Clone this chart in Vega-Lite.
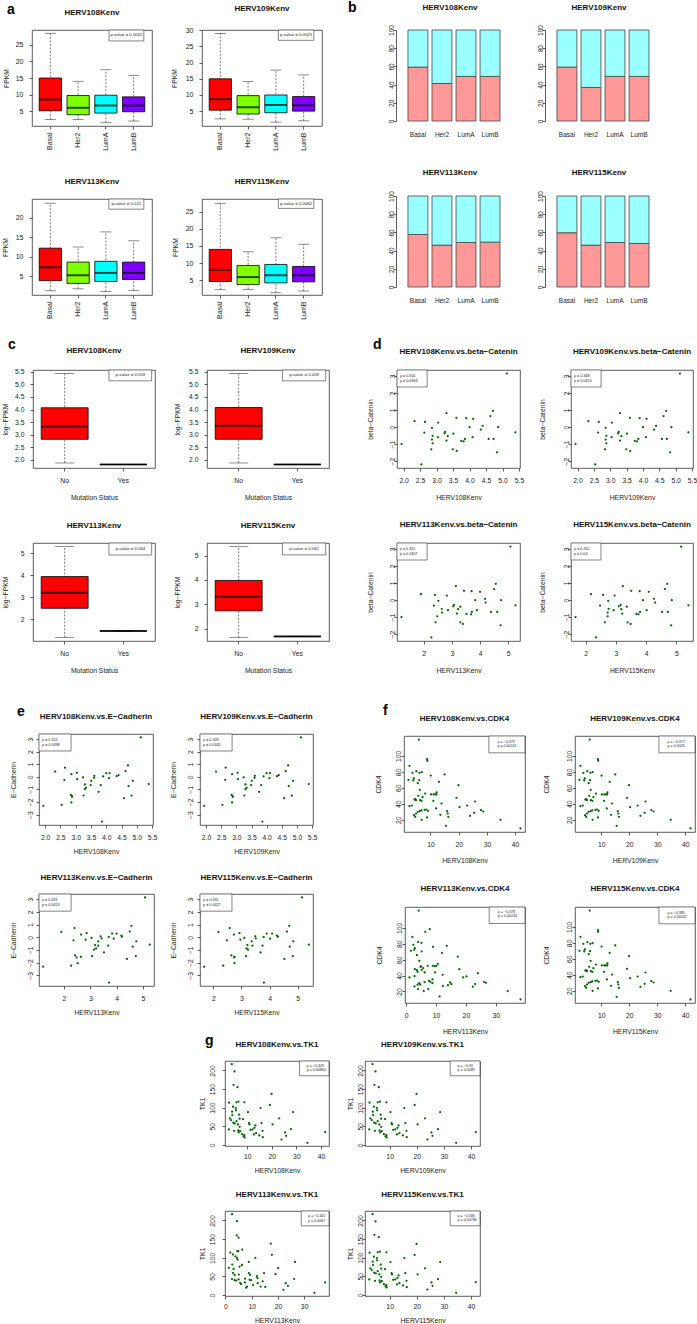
{
"$schema":"https://vega.github.io/schema/vega-lite/v6.json",
"padding":0,"background":"white","spacing":0,"bounds":"flush",
"datasets":{
"de":[
{"h108":1.94,"h113":1.21,"h115":1.67,"beta":-1.00,"ecad":-2.31},
{"h108":2.33,"h113":1.90,"h115":2.18,"beta":0.34,"ecad":0.42},
{"h108":2.54,"h113":2.27,"h115":2.35,"beta":-2.20,"ecad":-2.23},
{"h108":2.63,"h113":2.36,"h115":2.48,"beta":-0.33,"ecad":-0.24},
{"h108":2.65,"h113":2.40,"h115":2.58,"beta":0.30,"ecad":0.72},
{"h108":2.84,"h113":2.42,"h115":2.64,"beta":-1.31,"ecad":-1.43},
{"h108":2.86,"h113":2.52,"h115":2.75,"beta":-0.05,"ecad":-2.04},
{"h108":2.86,"h113":2.65,"h115":2.73,"beta":-0.74,"ecad":0.21},
{"h108":2.88,"h113":2.64,"h115":2.76,"beta":-0.52,"ecad":-1.54},
{"h108":2.88,"h113":2.48,"h115":2.73,"beta":-0.96,"ecad":-1.59},
{"h108":3.04,"h113":2.86,"h115":2.93,"beta":-0.60,"ecad":0.32},
{"h108":3.05,"h113":2.82,"h115":2.96,"beta":0.26,"ecad":-0.19},
{"h108":3.24,"h113":3.05,"h115":3.10,"beta":-0.37,"ecad":-0.05},
{"h108":3.26,"h113":3.07,"h115":3.16,"beta":-0.29,"ecad":-1.49},
{"h108":3.30,"h113":3.14,"h115":3.23,"beta":0.81,"ecad":-0.98},
{"h108":3.30,"h113":3.18,"h115":3.21,"beta":-0.80,"ecad":-0.61},
{"h108":3.34,"h113":3.22,"h115":3.18,"beta":-0.54,"ecad":-0.88},
{"h108":3.49,"h113":3.30,"h115":3.39,"beta":-1.31,"ecad":-0.66},
{"h108":3.51,"h113":3.30,"h115":3.36,"beta":-0.39,"ecad":-0.32},
{"h108":3.60,"h113":3.43,"h115":3.51,"beta":0.54,"ecad":-0.08},
{"h108":3.61,"h113":3.39,"h115":3.49,"beta":-1.41,"ecad":0.08},
{"h108":3.75,"h113":3.52,"h115":3.68,"beta":-0.82,"ecad":-1.19},
{"h108":3.82,"h113":3.68,"h115":3.75,"beta":-0.84,"ecad":-0.66},
{"h108":3.86,"h113":3.71,"h115":3.80,"beta":-0.70,"ecad":-3.56},
{"h108":3.90,"h113":3.70,"h115":3.79,"beta":0.52,"ecad":0.03},
{"h108":4.00,"h113":3.83,"h115":3.90,"beta":-0.01,"ecad":0.29},
{"h108":4.09,"h113":3.89,"h115":4.02,"beta":-0.60,"ecad":-0.11},
{"h108":4.11,"h113":4.00,"h115":4.09,"beta":0.48,"ecad":0.29},
{"h108":4.34,"h113":4.20,"h115":4.30,"beta":-0.15,"ecad":0.05},
{"h108":4.40,"h113":4.18,"h115":4.26,"beta":0.07,"ecad":0.13},
{"h108":4.58,"h113":4.39,"h115":4.53,"beta":-0.70,"ecad":-1.70},
{"h108":4.63,"h113":4.50,"h115":4.62,"beta":0.64,"ecad":0.45},
{"h108":4.71,"h113":4.56,"h115":4.70,"beta":0.95,"ecad":0.90},
{"h108":4.73,"h113":4.61,"h115":4.72,"beta":-0.70,"ecad":-0.74},
{"h108":4.83,"h113":4.73,"h115":4.83,"beta":-1.49,"ecad":-1.49},
{"h108":4.87,"h113":4.75,"h115":4.85,"beta":-0.01,"ecad":-0.32},
{"h108":5.13,"h113":5.08,"h115":5.16,"beta":3.14,"ecad":3.13},
{"h108":5.39,"h113":5.26,"h115":5.40,"beta":-0.31,"ecad":-0.58}],
"f108":[{"x":5.87,"y":120.4},{"x":2.56,"y":87.5},{"x":2.2,"y":70},{"x":3.6,"y":78.8},{"x":4.1,"y":71.7},{"x":3.9,"y":69.2},{"x":5.0,"y":80.8},{"x":6.1,"y":78.8},{"x":6.9,"y":79.6},{"x":8.8,"y":95.8},{"x":8.9,"y":93.8},{"x":6.0,"y":69.6},{"x":5.5,"y":65.8},{"x":6.2,"y":57.5},{"x":5.7,"y":50},{"x":4.6,"y":45.8},{"x":4.9,"y":44.6},{"x":4.3,"y":45.4},{"x":6.3,"y":44.6},{"x":6.8,"y":43.8},{"x":7.2,"y":48.3},{"x":8.1,"y":52.9},{"x":10.1,"y":75.4},{"x":2.56,"y":37.1},{"x":3.4,"y":37.9},{"x":4.2,"y":25.8},{"x":4.6,"y":23.8},{"x":4.9,"y":27.9},{"x":5.5,"y":30},{"x":6.2,"y":30.8},{"x":6.8,"y":31.7},{"x":6.9,"y":20},{"x":7.9,"y":32.5},{"x":8.5,"y":32.9},{"x":9.1,"y":31.3},{"x":8.8,"y":22.9},{"x":10.2,"y":51.7},{"x":11.1,"y":51.7},{"x":11.7,"y":51.7},{"x":12.1,"y":51.7},{"x":12.2,"y":54.2},{"x":11.0,"y":43.8},{"x":12.0,"y":34.2},{"x":13.0,"y":67.5},{"x":13.5,"y":26.3},{"x":13.9,"y":40.4},{"x":15.0,"y":76.7},{"x":15.5,"y":12.5},{"x":15.9,"y":30.8},{"x":16.1,"y":27.9},{"x":16.3,"y":23.8},{"x":19.2,"y":47.5},{"x":19.9,"y":63.3},{"x":20.3,"y":35.8},{"x":23.0,"y":37.9},{"x":24.0,"y":25},{"x":25.5,"y":28.8},{"x":25.8,"y":42.9},{"x":27.9,"y":32.1},{"x":28.7,"y":30.4},{"x":34.8,"y":20},{"x":41.9,"y":9.2}],
"f113":[{"x":4.2,"y":121.8},{"x":2.1,"y":88.7},{"x":1.6,"y":71.1},{"x":2.4,"y":78.7},{"x":2.7,"y":72.4},{"x":2.9,"y":74.5},{"x":4.0,"y":82.4},{"x":5.1,"y":81.2},{"x":5.2,"y":70.3},{"x":6.4,"y":95},{"x":7.9,"y":98.3},{"x":3.6,"y":65.7},{"x":4.4,"y":58.6},{"x":5.0,"y":51.5},{"x":5.2,"y":47.3},{"x":2.9,"y":48.1},{"x":3.6,"y":46.9},{"x":3.8,"y":44.8},{"x":6.2,"y":44},{"x":4.8,"y":51},{"x":5.7,"y":49.4},{"x":7.2,"y":52.3},{"x":9.0,"y":76.2},{"x":1.1,"y":37.7},{"x":2.8,"y":39.3},{"x":2.8,"y":26.4},{"x":3.8,"y":28.5},{"x":4.0,"y":23},{"x":4.4,"y":30.5},{"x":4.7,"y":28.5},{"x":6.2,"y":31.8},{"x":5.9,"y":20.5},{"x":7.6,"y":33.5},{"x":8.1,"y":32.2},{"x":8.8,"y":35.1},{"x":7.4,"y":23},{"x":8.9,"y":52.3},{"x":9.6,"y":51.9},{"x":10.1,"y":52.3},{"x":10.6,"y":54.8},{"x":9.7,"y":44},{"x":8.8,"y":30.5},{"x":12.0,"y":68.6},{"x":12.2,"y":41},{"x":12.3,"y":26.8},{"x":13.6,"y":77.4},{"x":11.2,"y":13.8},{"x":14.0,"y":28},{"x":14.7,"y":31.4},{"x":15.1,"y":29.3},{"x":17.3,"y":64},{"x":17.8,"y":48.1},{"x":19.1,"y":37.7},{"x":20.2,"y":38.9},{"x":22.3,"y":26},{"x":23.1,"y":29.3},{"x":24.0,"y":43.1},{"x":26.1,"y":32.2},{"x":26.7,"y":31},{"x":34.0,"y":20.5},{"x":38.3,"y":10}],
"g108":[{"x":3.7,"y":217},{"x":2.6,"y":113.5},{"x":2.5,"y":41.4},{"x":2.9,"y":71.2},{"x":3.4,"y":66.7},{"x":3.8,"y":89.2},{"x":3.9,"y":80.2},{"x":4.2,"y":102.7},{"x":4.3,"y":59.5},{"x":4.6,"y":37.8},{"x":4.8,"y":197.3},{"x":4.4,"y":161.3},{"x":5.3,"y":99.1},{"x":5.4,"y":92.8},{"x":5.6,"y":114.4},{"x":6.0,"y":155},{"x":6.4,"y":116.2},{"x":6.2,"y":55},{"x":5.6,"y":64},{"x":4.9,"y":57.7},{"x":6.7,"y":81.1},{"x":6.9,"y":70.3},{"x":6.9,"y":48.6},{"x":6.5,"y":33.3},{"x":7.1,"y":36.9},{"x":7.9,"y":28.8},{"x":6.3,"y":38.7},{"x":8.3,"y":69.4},{"x":8.8,"y":114.4},{"x":8.8,"y":26.1},{"x":8.9,"y":19.8},{"x":8.5,"y":22.5},{"x":10.3,"y":88.3},{"x":10.7,"y":58.6},{"x":10.9,"y":55},{"x":11.3,"y":40.5},{"x":12.1,"y":41.4},{"x":12.9,"y":45.9},{"x":13.3,"y":52.3},{"x":12.7,"y":27.9},{"x":13.6,"y":31.5},{"x":14.9,"y":25.2},{"x":15.4,"y":99.1},{"x":15.8,"y":58.6},{"x":16.2,"y":37.8},{"x":16.3,"y":20.7},{"x":19.2,"y":107.2},{"x":19.9,"y":136.9},{"x":20.3,"y":55},{"x":23.0,"y":71.2},{"x":23.9,"y":14.4},{"x":25.4,"y":33.3},{"x":25.8,"y":24.3},{"x":27.8,"y":42.3},{"x":28.6,"y":88.3},{"x":34.5,"y":5.4},{"x":41.7,"y":34.2}],
"g113":[{"x":2.5,"y":217},{"x":4.3,"y":160},{"x":4.4,"y":198},{"x":5.0,"y":154},{"x":1.8,"y":114},{"x":1.3,"y":73},{"x":2.8,"y":109},{"x":3.8,"y":104},{"x":4.4,"y":100},{"x":4.5,"y":118},{"x":4.9,"y":118},{"x":4.6,"y":95},{"x":5.4,"y":76},{"x":6.3,"y":81},{"x":2.6,"y":82},{"x":3.1,"y":70},{"x":2.9,"y":59},{"x":3.5,"y":54},{"x":2.5,"y":43},{"x":3.5,"y":40},{"x":4.1,"y":39},{"x":5.0,"y":42},{"x":5.1,"y":55},{"x":5.6,"y":33},{"x":5.9,"y":30},{"x":6.4,"y":122},{"x":7.4,"y":34},{"x":7.5,"y":44},{"x":7.9,"y":20},{"x":8.2,"y":23},{"x":8.9,"y":89},{"x":8.9,"y":59},{"x":9.4,"y":54},{"x":9.2,"y":41},{"x":9.8,"y":40},{"x":10.5,"y":27},{"x":11.4,"y":100},{"x":12.0,"y":51},{"x":12.2,"y":46},{"x":12.3,"y":32},{"x":13.4,"y":23},{"x":14.2,"y":37},{"x":14.7,"y":59},{"x":15.2,"y":22},{"x":17.3,"y":138},{"x":17.7,"y":108},{"x":19.1,"y":56},{"x":20.1,"y":72},{"x":22.1,"y":14},{"x":23.0,"y":32},{"x":23.8,"y":25},{"x":26.2,"y":43},{"x":26.5,"y":89},{"x":33.9,"y":6},{"x":38.0,"y":34}]
},
"vconcat":[
{"width":1,"height":30,"data":{"values":[{}]},"mark":{"type":"text","text":""},"encoding":{}},
{"spacing":0,"bounds":"flush","hconcat":[
{"width":32,"height":96,"title":{"text":"a","anchor":"start","dx":7,"offset":13,"fontSize":14,"fontWeight":"bold","color":"#000","limit":0},"data":{"values":[{}]},"mark":{"type":"text","text":""},"encoding":{}},
{"width":120,"height":96,"view":{"stroke":"#333","strokeWidth":0.8},"title":{"text":"HERV108Kenv","offset":13},
 "layer":[
  {"data":{"values":[{"g":"Basal","lo":2.5,"q1":5.1,"med":8.5,"q3":15.0,"hi":28.5},{"g":"Her2","lo":2.5,"q1":3.9,"med":6.0,"q3":9.7,"hi":14.0},{"g":"LumA","lo":1.5,"q1":4.4,"med":6.7,"q3":9.8,"hi":17.5},{"g":"LumB","lo":2.0,"q1":4.8,"med":6.7,"q3":9.3,"hi":15.8}]},
   "encoding":{"x":{"field":"g","type":"nominal","sort":null,"scale":{"paddingInner":0,"paddingOuter":0.16},"axis":{"title":null,"bandPosition":0.5,"labelAngle":270,"labelAlign":"right","labelBaseline":"middle","labelPadding":3,"labelFontSize":7,"labelOverlap":false}}},
   "layer":[
    {"mark":{"type":"rule","strokeDash":[2,1.5],"strokeWidth":0.7,"color":"#444"},"encoding":{"y":{"field":"lo","type":"quantitative","scale":{"domain":[0.5,29.5],"nice":false,"zero":false},"axis":{"values":[5,10,15,20,25],"tickCount":20,"format":"d","title":"FPKM","titleX":-26,"titleBaseline":"middle","labelPadding":6,"labelFontSize":7,"labelOverlap":false,"labelFlush":false}},"y2":{"field":"hi"}}},
    {"mark":{"type":"tick","size":11,"thickness":0.8,"color":"#333"},"encoding":{"y":{"field":"lo","type":"quantitative"}}},
    {"mark":{"type":"tick","size":11,"thickness":0.8,"color":"#333"},"encoding":{"y":{"field":"hi","type":"quantitative"}}},
    {"mark":{"type":"bar","width":{"band":0.8},"stroke":"#000","strokeWidth":0.8},"encoding":{"y":{"field":"q1","type":"quantitative"},"y2":{"field":"q3"},"color":{"field":"g","type":"nominal","sort":null,"scale":{"domain":["Basal","Her2","LumA","LumB"],"range":["#FF0000","#80FF00","#00FFFF","#8000FF"]},"legend":null}}},
    {"mark":{"type":"tick","size":22,"thickness":2,"color":"#000"},"encoding":{"y":{"field":"med","type":"quantitative"}}}]},
  {"data":{"values":[{}]},"layer":[
    {"mark":{"type":"rect","fill":"#fff","stroke":"#333","strokeWidth":0.6},"encoding":{"x":{"datum":3.21,"type":"quantitative","scale":{"domain":[0.34,4.66]},"axis":null},"x2":{"datum":4.66},"y":{"datum":26.2,"type":"quantitative"},"y2":{"datum":29.5}}},
    {"mark":{"type":"text","text":"p-value = 0.0022","fontSize":4.3,"align":"center","baseline":"middle","color":"#222"},"encoding":{"x":{"datum":3.935,"type":"quantitative","axis":null},"y":{"datum":27.85,"type":"quantitative"}}}]}],
 "resolve":{"scale":{"x":"independent"}}},
{"width":50,"height":96,"data":{"values":[{}]},"mark":{"type":"text","text":""},"encoding":{}},
{"width":120,"height":96,"view":{"stroke":"#333","strokeWidth":0.8},"title":{"text":"HERV109Kenv","offset":13},
 "layer":[
  {"data":{"values":[{"g":"Basal","lo":2.6,"q1":5.3,"med":8.7,"q3":15.0,"hi":29.0},{"g":"Her2","lo":2.5,"q1":4.1,"med":6.2,"q3":9.8,"hi":14.2},{"g":"LumA","lo":1.6,"q1":4.5,"med":6.9,"q3":10.0,"hi":17.7},{"g":"LumB","lo":2.0,"q1":5.0,"med":6.8,"q3":9.5,"hi":16.2}]},
   "encoding":{"x":{"field":"g","type":"nominal","sort":null,"scale":{"paddingInner":0,"paddingOuter":0.16},"axis":{"title":null,"bandPosition":0.5,"labelAngle":270,"labelAlign":"right","labelBaseline":"middle","labelPadding":3,"labelFontSize":7,"labelOverlap":false}}},
   "layer":[
    {"mark":{"type":"rule","strokeDash":[2,1.5],"strokeWidth":0.7,"color":"#444"},"encoding":{"y":{"field":"lo","type":"quantitative","scale":{"domain":[0.4,30.1],"nice":false,"zero":false},"axis":{"values":[5,10,15,20,25,30],"tickCount":20,"format":"d","title":"FPKM","titleX":-28,"titleBaseline":"middle","labelPadding":6,"labelFontSize":7,"labelOverlap":false,"labelFlush":false}},"y2":{"field":"hi"}}},
    {"mark":{"type":"tick","size":11,"thickness":0.8,"color":"#333"},"encoding":{"y":{"field":"lo","type":"quantitative"}}},
    {"mark":{"type":"tick","size":11,"thickness":0.8,"color":"#333"},"encoding":{"y":{"field":"hi","type":"quantitative"}}},
    {"mark":{"type":"bar","width":{"band":0.8},"stroke":"#000","strokeWidth":0.8},"encoding":{"y":{"field":"q1","type":"quantitative"},"y2":{"field":"q3"},"color":{"field":"g","type":"nominal","sort":null,"scale":{"domain":["Basal","Her2","LumA","LumB"],"range":["#FF0000","#80FF00","#00FFFF","#8000FF"]},"legend":null}}},
    {"mark":{"type":"tick","size":22,"thickness":2,"color":"#000"},"encoding":{"y":{"field":"med","type":"quantitative"}}}]},
  {"data":{"values":[{}]},"layer":[
    {"mark":{"type":"rect","fill":"#fff","stroke":"#333","strokeWidth":0.6},"encoding":{"x":{"datum":3.18,"type":"quantitative","scale":{"domain":[0.34,4.66]},"axis":null},"x2":{"datum":4.66},"y":{"datum":26.9,"type":"quantitative"},"y2":{"datum":30.1}}},
    {"mark":{"type":"text","text":"p-value = 0.0025","fontSize":4.3,"align":"center","baseline":"middle","color":"#222"},"encoding":{"x":{"datum":3.92,"type":"quantitative","axis":null},"y":{"datum":28.5,"type":"quantitative"}}}]}],
 "resolve":{"scale":{"x":"independent"}}},
{"width":74,"height":91,"title":{"text":"b","anchor":"start","dx":26,"offset":15,"fontSize":14,"fontWeight":"bold","color":"#000","limit":0},"data":{"values":[{}]},"mark":{"type":"text","text":""},"encoding":{}},
{"width":108,"height":91,"title":{"text":"HERV108Kenv","offset":13},
 "data":{"values":[{"g":"Basal","v":59.2},{"g":"Her2","v":41.2},{"g":"LumA","v":49},{"g":"LumB","v":49}]},
 "encoding":{"x":{"field":"g","type":"nominal","sort":null,"scale":{"paddingInner":0.17,"paddingOuter":0.332,"align":0.75},"axis":{"title":null,"labelAngle":0,"ticks":false,"tickSize":0,"labelPadding":13,"labelBaseline":"middle","labelFontSize":6.5,"labelOverlap":false}}},
 "layer":[
  {"mark":{"type":"bar","color":"#FF9999","stroke":"#444","strokeWidth":0.8},"encoding":{"y":{"field":"v","type":"quantitative","scale":{"domain":[0,100],"nice":false,"zero":false},"axis":{"values":[0,20,40,60,80,100],"tickCount":20,"format":"d","title":null,"labelAngle":270,"labelAlign":"center","labelBaseline":"middle","labelPadding":2,"labelFontSize":6.5,"labelOverlap":false,"labelFlush":false,"domain":true,"domainColor":"#333","domainWidth":0.8}},"y2":{"datum":0}}},
  {"mark":{"type":"bar","color":"#99FFFF","stroke":"#444","strokeWidth":0.8},"encoding":{"y":{"field":"v","type":"quantitative"},"y2":{"datum":100}}}]},
{"width":41,"height":91,"data":{"values":[{}]},"mark":{"type":"text","text":""},"encoding":{}},
{"width":108,"height":91,"title":{"text":"HERV109Kenv","offset":13},
 "data":{"values":[{"g":"Basal","v":59.2},{"g":"Her2","v":36.8},{"g":"LumA","v":49},{"g":"LumB","v":49}]},
 "encoding":{"x":{"field":"g","type":"nominal","sort":null,"scale":{"paddingInner":0.17,"paddingOuter":0.332,"align":0.75},"axis":{"title":null,"labelAngle":0,"ticks":false,"tickSize":0,"labelPadding":13,"labelBaseline":"middle","labelFontSize":6.5,"labelOverlap":false}}},
 "layer":[
  {"mark":{"type":"bar","color":"#FF9999","stroke":"#444","strokeWidth":0.8},"encoding":{"y":{"field":"v","type":"quantitative","scale":{"domain":[0,100],"nice":false,"zero":false},"axis":{"values":[0,20,40,60,80,100],"tickCount":20,"format":"d","title":null,"labelAngle":270,"labelAlign":"center","labelBaseline":"middle","labelPadding":2,"labelFontSize":6.5,"labelOverlap":false,"labelFlush":false,"domain":true,"domainColor":"#333","domainWidth":0.8}},"y2":{"datum":0}}},
  {"mark":{"type":"bar","color":"#99FFFF","stroke":"#444","strokeWidth":0.8},"encoding":{"y":{"field":"v","type":"quantitative"},"y2":{"datum":100}}}]}
]},
{"width":1,"height":166,"data":{"values":[{}]},"mark":{"type":"text","text":""},"encoding":{}},
{"spacing":0,"bounds":"flush","hconcat":[
{"width":396,"height":91,"data":{"values":[{}]},"mark":{"type":"text","text":""},"encoding":{}},
{"width":108,"height":91,"title":{"text":"HERV113Kenv","offset":14},
 "data":{"values":[{"g":"Basal","v":57.7},{"g":"Her2","v":46},{"g":"LumA","v":48.9},{"g":"LumB","v":49.3}]},
 "encoding":{"x":{"field":"g","type":"nominal","sort":null,"scale":{"paddingInner":0.17,"paddingOuter":0.332,"align":0.75},"axis":{"title":null,"labelAngle":0,"ticks":false,"tickSize":0,"labelPadding":13,"labelBaseline":"middle","labelFontSize":6.5,"labelOverlap":false}}},
 "layer":[
  {"mark":{"type":"bar","color":"#FF9999","stroke":"#444","strokeWidth":0.8},"encoding":{"y":{"field":"v","type":"quantitative","scale":{"domain":[0,100],"nice":false,"zero":false},"axis":{"values":[0,20,40,60,80,100],"tickCount":20,"format":"d","title":null,"labelAngle":270,"labelAlign":"center","labelBaseline":"middle","labelPadding":2,"labelFontSize":6.5,"labelOverlap":false,"labelFlush":false,"domain":true,"domainColor":"#333","domainWidth":0.8}},"y2":{"datum":0}}},
  {"mark":{"type":"bar","color":"#99FFFF","stroke":"#444","strokeWidth":0.8},"encoding":{"y":{"field":"v","type":"quantitative"},"y2":{"datum":100}}}]},
{"width":41,"height":91,"data":{"values":[{}]},"mark":{"type":"text","text":""},"encoding":{}},
{"width":108,"height":91,"title":{"text":"HERV115Kenv","offset":14},
 "data":{"values":[{"g":"Basal","v":59.6},{"g":"Her2","v":46},{"g":"LumA","v":48.9},{"g":"LumB","v":47.8}]},
 "encoding":{"x":{"field":"g","type":"nominal","sort":null,"scale":{"paddingInner":0.17,"paddingOuter":0.332,"align":0.75},"axis":{"title":null,"labelAngle":0,"ticks":false,"tickSize":0,"labelPadding":13,"labelBaseline":"middle","labelFontSize":6.5,"labelOverlap":false}}},
 "layer":[
  {"mark":{"type":"bar","color":"#FF9999","stroke":"#444","strokeWidth":0.8},"encoding":{"y":{"field":"v","type":"quantitative","scale":{"domain":[0,100],"nice":false,"zero":false},"axis":{"values":[0,20,40,60,80,100],"tickCount":20,"format":"d","title":null,"labelAngle":270,"labelAlign":"center","labelBaseline":"middle","labelPadding":2,"labelFontSize":6.5,"labelOverlap":false,"labelFlush":false,"domain":true,"domainColor":"#333","domainWidth":0.8}},"y2":{"datum":0}}},
  {"mark":{"type":"bar","color":"#99FFFF","stroke":"#444","strokeWidth":0.8},"encoding":{"y":{"field":"v","type":"quantitative"},"y2":{"datum":100}}}]}
]},
{"width":1,"height":3,"data":{"values":[{}]},"mark":{"type":"text","text":""},"encoding":{}},
{"spacing":0,"bounds":"flush","hconcat":[
{"width":32,"height":96,"data":{"values":[{}]},"mark":{"type":"text","text":""},"encoding":{}},
{"width":120,"height":96,"view":{"stroke":"#333","strokeWidth":0.8},"title":{"text":"HERV113Kenv","offset":12.5},
 "layer":[
  {"data":{"values":[{"g":"Basal","lo":1.2,"q1":3.8,"med":7.3,"q3":12.2,"hi":23.8},{"g":"Her2","lo":1.7,"q1":3.1,"med":5.2,"q3":8.6,"hi":12.5},{"g":"LumA","lo":1.0,"q1":3.6,"med":5.8,"q3":8.8,"hi":16.4},{"g":"LumB","lo":1.3,"q1":4.1,"med":5.8,"q3":8.6,"hi":14.1}]},
   "encoding":{"x":{"field":"g","type":"nominal","sort":null,"scale":{"paddingInner":0,"paddingOuter":0.16},"axis":{"title":null,"bandPosition":0.5,"labelAngle":270,"labelAlign":"right","labelBaseline":"middle","labelPadding":3,"labelFontSize":7,"labelOverlap":false}}},
   "layer":[
    {"mark":{"type":"rule","strokeDash":[2,1.5],"strokeWidth":0.7,"color":"#444"},"encoding":{"y":{"field":"lo","type":"quantitative","scale":{"domain":[0.1,24.9],"nice":false,"zero":false},"axis":{"values":[5,10,15,20],"tickCount":20,"format":"d","title":"FPKM","titleX":-27,"titleBaseline":"middle","labelPadding":6,"labelFontSize":7,"labelOverlap":false,"labelFlush":false}},"y2":{"field":"hi"}}},
    {"mark":{"type":"tick","size":11,"thickness":0.8,"color":"#333"},"encoding":{"y":{"field":"lo","type":"quantitative"}}},
    {"mark":{"type":"tick","size":11,"thickness":0.8,"color":"#333"},"encoding":{"y":{"field":"hi","type":"quantitative"}}},
    {"mark":{"type":"bar","width":{"band":0.8},"stroke":"#000","strokeWidth":0.8},"encoding":{"y":{"field":"q1","type":"quantitative"},"y2":{"field":"q3"},"color":{"field":"g","type":"nominal","sort":null,"scale":{"domain":["Basal","Her2","LumA","LumB"],"range":["#FF0000","#80FF00","#00FFFF","#8000FF"]},"legend":null}}},
    {"mark":{"type":"tick","size":22,"thickness":2,"color":"#000"},"encoding":{"y":{"field":"med","type":"quantitative"}}}]},
  {"data":{"values":[{}]},"layer":[
    {"mark":{"type":"rect","fill":"#fff","stroke":"#333","strokeWidth":0.6},"encoding":{"x":{"datum":3.2,"type":"quantitative","scale":{"domain":[0.34,4.66]},"axis":null},"x2":{"datum":4.66},"y":{"datum":22.27,"type":"quantitative"},"y2":{"datum":24.9}}},
    {"mark":{"type":"text","text":"p-value = 0.015","fontSize":4.3,"align":"center","baseline":"middle","color":"#222"},"encoding":{"x":{"datum":3.93,"type":"quantitative","axis":null},"y":{"datum":23.58,"type":"quantitative"}}}]}],
 "resolve":{"scale":{"x":"independent"}}},
{"width":50,"height":96,"data":{"values":[{}]},"mark":{"type":"text","text":""},"encoding":{}},
{"width":120,"height":96,"view":{"stroke":"#333","strokeWidth":0.8},"title":{"text":"HERV115Kenv","offset":12.5},
 "layer":[
  {"data":{"values":[{"g":"Basal","lo":2.2,"q1":4.6,"med":8.0,"q3":14.0,"hi":27.5},{"g":"Her2","lo":2.3,"q1":3.7,"med":5.9,"q3":9.3,"hi":13.3},{"g":"LumA","lo":1.3,"q1":4.2,"med":6.4,"q3":9.6,"hi":17.4},{"g":"LumB","lo":1.8,"q1":4.5,"med":6.4,"q3":9.0,"hi":15.5}]},
   "encoding":{"x":{"field":"g","type":"nominal","sort":null,"scale":{"paddingInner":0,"paddingOuter":0.16},"axis":{"title":null,"bandPosition":0.5,"labelAngle":270,"labelAlign":"right","labelBaseline":"middle","labelPadding":3,"labelFontSize":7,"labelOverlap":false}}},
   "layer":[
    {"mark":{"type":"rule","strokeDash":[2,1.5],"strokeWidth":0.7,"color":"#444"},"encoding":{"y":{"field":"lo","type":"quantitative","scale":{"domain":[0.65,28.75],"nice":false,"zero":false},"axis":{"values":[5,10,15,20,25],"tickCount":20,"format":"d","title":"FPKM","titleX":-27,"titleBaseline":"middle","labelPadding":6,"labelFontSize":7,"labelOverlap":false,"labelFlush":false}},"y2":{"field":"hi"}}},
    {"mark":{"type":"tick","size":11,"thickness":0.8,"color":"#333"},"encoding":{"y":{"field":"lo","type":"quantitative"}}},
    {"mark":{"type":"tick","size":11,"thickness":0.8,"color":"#333"},"encoding":{"y":{"field":"hi","type":"quantitative"}}},
    {"mark":{"type":"bar","width":{"band":0.8},"stroke":"#000","strokeWidth":0.8},"encoding":{"y":{"field":"q1","type":"quantitative"},"y2":{"field":"q3"},"color":{"field":"g","type":"nominal","sort":null,"scale":{"domain":["Basal","Her2","LumA","LumB"],"range":["#FF0000","#80FF00","#00FFFF","#8000FF"]},"legend":null}}},
    {"mark":{"type":"tick","size":22,"thickness":2,"color":"#000"},"encoding":{"y":{"field":"med","type":"quantitative"}}}]},
  {"data":{"values":[{}]},"layer":[
    {"mark":{"type":"rect","fill":"#fff","stroke":"#333","strokeWidth":0.6},"encoding":{"x":{"datum":3.18,"type":"quantitative","scale":{"domain":[0.34,4.66]},"axis":null},"x2":{"datum":4.66},"y":{"datum":26.0,"type":"quantitative"},"y2":{"datum":28.75}}},
    {"mark":{"type":"text","text":"p-value = 0.0062","fontSize":4.3,"align":"center","baseline":"middle","color":"#222"},"encoding":{"x":{"datum":3.92,"type":"quantitative","axis":null},"y":{"datum":27.37,"type":"quantitative"}}}]}],
 "resolve":{"scale":{"x":"independent"}}}
]},
{"width":1,"height":171,"data":{"values":[{}]},"mark":{"type":"text","text":""},"encoding":{}},
{"spacing":0,"bounds":"flush","hconcat":[
{"width":33,"height":98,"title":{"text":"c","anchor":"start","dx":8,"offset":18,"fontSize":14,"fontWeight":"bold","color":"#000","limit":0},"data":{"values":[{}]},"mark":{"type":"text","text":""},"encoding":{}},
{"width":122,"height":98,"view":{"stroke":"#333","strokeWidth":0.8},"title":{"text":"HERV108Kenv","offset":14},
 "layer":[
  {"data":{"values":[{"g":"No","lo":1.88,"q1":2.82,"med":3.33,"q3":4.07,"hi":5.43},{"g":"Yes","lo":1.82,"q1":1.82,"med":1.82,"q3":1.82,"hi":1.82}]},
   "encoding":{"x":{"field":"g","type":"nominal","sort":null,"scale":{"paddingInner":0,"paddingOuter":0.04},"axis":{"title":"Mutation Status","titleY":29,"titleBaseline":"middle","bandPosition":0.5,"labelAngle":0,"labelBaseline":"middle","labelPadding":9,"labelOverlap":false}}},
   "layer":[
    {"mark":{"type":"rule","strokeDash":[2,1.5],"strokeWidth":0.7,"color":"#444"},"encoding":{"y":{"field":"lo","type":"quantitative","scale":{"domain":[1.68,5.57],"nice":false,"zero":false},"axis":{"values":[2,2.5,3,3.5,4,4.5,5,5.5],"tickCount":20,"format":".1f","title":"log−FPKM","titleX":-28,"titleBaseline":"middle","labelPadding":6,"labelOverlap":false,"labelFlush":false}},"y2":{"field":"hi"}}},
    {"mark":{"type":"tick","size":19,"thickness":0.8,"color":"#333"},"encoding":{"y":{"field":"lo","type":"quantitative"}}},
    {"mark":{"type":"tick","size":19,"thickness":0.8,"color":"#333"},"encoding":{"y":{"field":"hi","type":"quantitative"}}},
    {"mark":{"type":"bar","width":{"band":0.8},"color":"#FF0000","stroke":"#000","strokeWidth":0.8},"encoding":{"y":{"field":"q1","type":"quantitative"},"y2":{"field":"q3"}}},
    {"mark":{"type":"tick","size":47,"thickness":2,"color":"#000"},"encoding":{"y":{"field":"med","type":"quantitative"}}}]},
  {"data":{"values":[{}]},"layer":[
    {"mark":{"type":"rect","fill":"#fff","stroke":"#333","strokeWidth":0.6},"encoding":{"x":{"datum":1.77,"type":"quantitative","scale":{"domain":[0.46,2.54]},"axis":null},"x2":{"datum":2.54},"y":{"datum":5.14,"type":"quantitative"},"y2":{"datum":5.57}}},
    {"mark":{"type":"text","text":"p-value = 0.059","fontSize":4.3,"align":"center","baseline":"middle","color":"#222"},"encoding":{"x":{"datum":2.155,"type":"quantitative","axis":null},"y":{"datum":5.355,"type":"quantitative"}}}]}],
 "resolve":{"scale":{"x":"independent"}}},
{"width":52,"height":98,"data":{"values":[{}]},"mark":{"type":"text","text":""},"encoding":{}},
{"width":122,"height":98,"view":{"stroke":"#333","strokeWidth":0.8},"title":{"text":"HERV109Kenv","offset":14},
 "layer":[
  {"data":{"values":[{"g":"No","lo":1.88,"q1":2.82,"med":3.36,"q3":4.08,"hi":5.43},{"g":"Yes","lo":1.82,"q1":1.82,"med":1.82,"q3":1.82,"hi":1.82}]},
   "encoding":{"x":{"field":"g","type":"nominal","sort":null,"scale":{"paddingInner":0,"paddingOuter":0.04},"axis":{"title":"Mutation Status","titleY":29,"titleBaseline":"middle","bandPosition":0.5,"labelAngle":0,"labelBaseline":"middle","labelPadding":9,"labelOverlap":false}}},
   "layer":[
    {"mark":{"type":"rule","strokeDash":[2,1.5],"strokeWidth":0.7,"color":"#444"},"encoding":{"y":{"field":"lo","type":"quantitative","scale":{"domain":[1.68,5.57],"nice":false,"zero":false},"axis":{"values":[2,2.5,3,3.5,4,4.5,5,5.5],"tickCount":20,"format":".1f","title":"log−FPKM","titleX":-30,"titleBaseline":"middle","labelPadding":6,"labelOverlap":false,"labelFlush":false}},"y2":{"field":"hi"}}},
    {"mark":{"type":"tick","size":19,"thickness":0.8,"color":"#333"},"encoding":{"y":{"field":"lo","type":"quantitative"}}},
    {"mark":{"type":"tick","size":19,"thickness":0.8,"color":"#333"},"encoding":{"y":{"field":"hi","type":"quantitative"}}},
    {"mark":{"type":"bar","width":{"band":0.8},"color":"#FF0000","stroke":"#000","strokeWidth":0.8},"encoding":{"y":{"field":"q1","type":"quantitative"},"y2":{"field":"q3"}}},
    {"mark":{"type":"tick","size":47,"thickness":2,"color":"#000"},"encoding":{"y":{"field":"med","type":"quantitative"}}}]},
  {"data":{"values":[{}]},"layer":[
    {"mark":{"type":"rect","fill":"#fff","stroke":"#333","strokeWidth":0.6},"encoding":{"x":{"datum":1.76,"type":"quantitative","scale":{"domain":[0.46,2.54]},"axis":null},"x2":{"datum":2.54},"y":{"datum":5.14,"type":"quantitative"},"y2":{"datum":5.57}}},
    {"mark":{"type":"text","text":"p-value = 0.059","fontSize":4.3,"align":"center","baseline":"middle","color":"#222"},"encoding":{"x":{"datum":2.15,"type":"quantitative","axis":null},"y":{"datum":5.355,"type":"quantitative"}}}]}],
 "resolve":{"scale":{"x":"independent"}}},
{"width":68,"height":98,"title":{"text":"d","anchor":"start","dx":44,"offset":18,"fontSize":14,"fontWeight":"bold","color":"#000","limit":0},"data":{"values":[{}]},"mark":{"type":"text","text":""},"encoding":{}},
{"width":123,"height":98,"view":{"stroke":"#333","strokeWidth":0.8},"title":{"text":"HERV108Kenv.vs.beta−Catenin","offset":14},
 "layer":[
  {"data":{"name":"de"},"mark":{"type":"circle","size":5,"color":"#006400","opacity":1},"encoding":{"x":{"field":"h108","type":"quantitative","scale":{"domain":[1.80,5.53],"nice":false,"zero":false},"axis":{"values":[2,2.5,3,3.5,4,4.5,5,5.5],"tickCount":20,"format":".1f","title":"HERV108Kenv","titleY":29,"titleBaseline":"middle","labelBaseline":"middle","labelPadding":9,"labelOverlap":false,"labelFlush":false}},"y":{"field":"beta","type":"quantitative","scale":{"domain":[-2.41,3.35],"nice":false,"zero":false},"axis":{"values":[-2,-1,0,1,2,3],"tickCount":20,"format":"d","title":"beta−Catenin","titleX":-27,"titleBaseline":"middle","labelAngle":270,"labelAlign":"center","labelBaseline":"middle","labelPadding":2,"labelOverlap":false,"labelFlush":false}}}},
  {"data":{"values":[{}]},"mark":{"type":"rect","fill":"#fff","stroke":"#333","strokeWidth":0.6},"encoding":{"x":{"datum":1.80},"x2":{"datum":2.715},"y":{"datum":2.35},"y2":{"datum":3.35}}},
  {"data":{"values":[{}]},"mark":{"type":"text","text":["ρ = 0.341","p = 0.0363"],"fontSize":3.7,"lineHeight":5.4,"align":"left","baseline":"alphabetic","color":"#222"},"encoding":{"x":{"datum":1.89},"y":{"datum":2.96}}}]},
{"width":51,"height":98,"data":{"values":[{}]},"mark":{"type":"text","text":""},"encoding":{}},
{"width":122,"height":98,"view":{"stroke":"#333","strokeWidth":0.8},"title":{"text":"HERV109Kenv.vs.beta−Catenin","offset":14},
 "layer":[
  {"data":{"name":"de"},"mark":{"type":"circle","size":5,"color":"#006400","opacity":1},"encoding":{"x":{"field":"h108","type":"quantitative","scale":{"domain":[1.80,5.53],"nice":false,"zero":false},"axis":{"values":[2,2.5,3,3.5,4,4.5,5,5.5],"tickCount":20,"format":".1f","title":"HERV109Kenv","titleY":29,"titleBaseline":"middle","labelBaseline":"middle","labelPadding":9,"labelOverlap":false,"labelFlush":false}},"y":{"field":"beta","type":"quantitative","scale":{"domain":[-2.41,3.35],"nice":false,"zero":false},"axis":{"values":[-2,-1,0,1,2,3],"tickCount":20,"format":"d","title":"beta−Catenin","titleX":-29,"titleBaseline":"middle","labelAngle":270,"labelAlign":"center","labelBaseline":"middle","labelPadding":2,"labelOverlap":false,"labelFlush":false}}}},
  {"data":{"values":[{}]},"mark":{"type":"rect","fill":"#fff","stroke":"#333","strokeWidth":0.6},"encoding":{"x":{"datum":1.80},"x2":{"datum":2.72},"y":{"datum":2.35},"y2":{"datum":3.35}}},
  {"data":{"values":[{}]},"mark":{"type":"text","text":["ρ = 0.348","p = 0.0324"],"fontSize":3.7,"lineHeight":5.4,"align":"left","baseline":"alphabetic","color":"#222"},"encoding":{"x":{"datum":1.89},"y":{"datum":2.96}}}]}
]},
{"width":1,"height":173,"data":{"values":[{}]},"mark":{"type":"text","text":""},"encoding":{}},
{"spacing":0,"bounds":"flush","hconcat":[
{"width":33,"height":98,"data":{"values":[{}]},"mark":{"type":"text","text":""},"encoding":{}},
{"width":122,"height":98,"view":{"stroke":"#333","strokeWidth":0.8},"title":{"text":"HERV113Kenv","offset":13},
 "layer":[
  {"data":{"values":[{"g":"No","lo":1.18,"q1":2.5,"med":3.21,"q3":3.94,"hi":5.3},{"g":"Yes","lo":1.47,"q1":1.47,"med":1.47,"q3":1.47,"hi":1.47}]},
   "encoding":{"x":{"field":"g","type":"nominal","sort":null,"scale":{"paddingInner":0,"paddingOuter":0.04},"axis":{"title":"Mutation Status","titleY":29,"titleBaseline":"middle","bandPosition":0.5,"labelAngle":0,"labelBaseline":"middle","labelPadding":9,"labelOverlap":false}}},
   "layer":[
    {"mark":{"type":"rule","strokeDash":[2,1.5],"strokeWidth":0.7,"color":"#444"},"encoding":{"y":{"field":"lo","type":"quantitative","scale":{"domain":[1.015,5.465],"nice":false,"zero":false},"axis":{"values":[2,3,4,5],"tickCount":20,"format":"d","title":"log−FPKM","titleX":-28,"titleBaseline":"middle","labelPadding":6,"labelOverlap":false,"labelFlush":false}},"y2":{"field":"hi"}}},
    {"mark":{"type":"tick","size":19,"thickness":0.8,"color":"#333"},"encoding":{"y":{"field":"lo","type":"quantitative"}}},
    {"mark":{"type":"tick","size":19,"thickness":0.8,"color":"#333"},"encoding":{"y":{"field":"hi","type":"quantitative"}}},
    {"mark":{"type":"bar","width":{"band":0.8},"color":"#FF0000","stroke":"#000","strokeWidth":0.8},"encoding":{"y":{"field":"q1","type":"quantitative"},"y2":{"field":"q3"}}},
    {"mark":{"type":"tick","size":47,"thickness":2,"color":"#000"},"encoding":{"y":{"field":"med","type":"quantitative"}}}]},
  {"data":{"values":[{}]},"layer":[
    {"mark":{"type":"rect","fill":"#fff","stroke":"#333","strokeWidth":0.6},"encoding":{"x":{"datum":1.77,"type":"quantitative","scale":{"domain":[0.46,2.54]},"axis":null},"x2":{"datum":2.54},"y":{"datum":4.92,"type":"quantitative"},"y2":{"datum":5.465}}},
    {"mark":{"type":"text","text":"p-value = 0.064","fontSize":4.3,"align":"center","baseline":"middle","color":"#222"},"encoding":{"x":{"datum":2.155,"type":"quantitative","axis":null},"y":{"datum":5.19,"type":"quantitative"}}}]}],
 "resolve":{"scale":{"x":"independent"}}},
{"width":52,"height":98,"data":{"values":[{}]},"mark":{"type":"text","text":""},"encoding":{}},
{"width":122,"height":98,"view":{"stroke":"#333","strokeWidth":0.8},"title":{"text":"HERV115Kenv","offset":13},
 "layer":[
  {"data":{"values":[{"g":"No","lo":1.64,"q1":2.73,"med":3.31,"q3":3.98,"hi":5.37},{"g":"Yes","lo":1.68,"q1":1.68,"med":1.68,"q3":1.68,"hi":1.68}]},
   "encoding":{"x":{"field":"g","type":"nominal","sort":null,"scale":{"paddingInner":0,"paddingOuter":0.04},"axis":{"title":"Mutation Status","titleY":29,"titleBaseline":"middle","bandPosition":0.5,"labelAngle":0,"labelBaseline":"middle","labelPadding":9,"labelOverlap":false}}},
   "layer":[
    {"mark":{"type":"rule","strokeDash":[2,1.5],"strokeWidth":0.7,"color":"#444"},"encoding":{"y":{"field":"lo","type":"quantitative","scale":{"domain":[1.49,5.52],"nice":false,"zero":false},"axis":{"values":[2,3,4,5],"tickCount":20,"format":"d","title":"log−FPKM","titleX":-30,"titleBaseline":"middle","labelPadding":6,"labelOverlap":false,"labelFlush":false}},"y2":{"field":"hi"}}},
    {"mark":{"type":"tick","size":19,"thickness":0.8,"color":"#333"},"encoding":{"y":{"field":"lo","type":"quantitative"}}},
    {"mark":{"type":"tick","size":19,"thickness":0.8,"color":"#333"},"encoding":{"y":{"field":"hi","type":"quantitative"}}},
    {"mark":{"type":"bar","width":{"band":0.8},"color":"#FF0000","stroke":"#000","strokeWidth":0.8},"encoding":{"y":{"field":"q1","type":"quantitative"},"y2":{"field":"q3"}}},
    {"mark":{"type":"tick","size":47,"thickness":2,"color":"#000"},"encoding":{"y":{"field":"med","type":"quantitative"}}}]},
  {"data":{"values":[{}]},"layer":[
    {"mark":{"type":"rect","fill":"#fff","stroke":"#333","strokeWidth":0.6},"encoding":{"x":{"datum":1.76,"type":"quantitative","scale":{"domain":[0.46,2.54]},"axis":null},"x2":{"datum":2.54},"y":{"datum":5.03,"type":"quantitative"},"y2":{"datum":5.52}}},
    {"mark":{"type":"text","text":"p-value = 0.062","fontSize":4.3,"align":"center","baseline":"middle","color":"#222"},"encoding":{"x":{"datum":2.15,"type":"quantitative","axis":null},"y":{"datum":5.275,"type":"quantitative"}}}]}],
 "resolve":{"scale":{"x":"independent"}}},
{"width":68,"height":98,"data":{"values":[{}]},"mark":{"type":"text","text":""},"encoding":{}},
{"width":123,"height":98,"view":{"stroke":"#333","strokeWidth":0.8},"title":{"text":"HERV113Kenv.vs.beta−Catenin","offset":13.5},
 "layer":[
  {"data":{"name":"de"},"mark":{"type":"circle","size":5,"color":"#006400","opacity":1},"encoding":{"x":{"field":"h113","type":"quantitative","scale":{"domain":[1.05,5.42],"nice":false,"zero":false},"axis":{"values":[2,3,4,5],"tickCount":20,"format":"d","title":"HERV113Kenv","titleY":29,"titleBaseline":"middle","labelBaseline":"middle","labelPadding":9,"labelOverlap":false,"labelFlush":false}},"y":{"field":"beta","type":"quantitative","scale":{"domain":[-2.41,3.35],"nice":false,"zero":false},"axis":{"values":[-2,-1,0,1,2,3],"tickCount":20,"format":"d","title":"beta−Catenin","titleX":-27,"titleBaseline":"middle","labelAngle":270,"labelAlign":"center","labelBaseline":"middle","labelPadding":2,"labelOverlap":false,"labelFlush":false}}}},
  {"data":{"values":[{}]},"mark":{"type":"rect","fill":"#fff","stroke":"#333","strokeWidth":0.6},"encoding":{"x":{"datum":1.05},"x2":{"datum":2.12},"y":{"datum":2.35},"y2":{"datum":3.35}}},
  {"data":{"values":[{}]},"mark":{"type":"text","text":["ρ = 0.351","p = 0.0307"],"fontSize":3.7,"lineHeight":5.4,"align":"left","baseline":"alphabetic","color":"#222"},"encoding":{"x":{"datum":1.15},"y":{"datum":2.96}}}]},
{"width":51,"height":98,"data":{"values":[{}]},"mark":{"type":"text","text":""},"encoding":{}},
{"width":122,"height":98,"view":{"stroke":"#333","strokeWidth":0.8},"title":{"text":"HERV115Kenv.vs.beta−Catenin","offset":13.5},
 "layer":[
  {"data":{"name":"de"},"mark":{"type":"circle","size":5,"color":"#006400","opacity":1},"encoding":{"x":{"field":"h115","type":"quantitative","scale":{"domain":[1.52,5.55],"nice":false,"zero":false},"axis":{"values":[2,3,4,5],"tickCount":20,"format":"d","title":"HERV115Kenv","titleY":29,"titleBaseline":"middle","labelBaseline":"middle","labelPadding":9,"labelOverlap":false,"labelFlush":false}},"y":{"field":"beta","type":"quantitative","scale":{"domain":[-2.41,3.35],"nice":false,"zero":false},"axis":{"values":[-2,-1,0,1,2,3],"tickCount":20,"format":"d","title":"beta−Catenin","titleX":-29,"titleBaseline":"middle","labelAngle":270,"labelAlign":"center","labelBaseline":"middle","labelPadding":2,"labelOverlap":false,"labelFlush":false}}}},
  {"data":{"values":[{}]},"mark":{"type":"rect","fill":"#fff","stroke":"#333","strokeWidth":0.6},"encoding":{"x":{"datum":1.52},"x2":{"datum":2.51},"y":{"datum":2.35},"y2":{"datum":3.35}}},
  {"data":{"values":[{}]},"mark":{"type":"text","text":["ρ = 0.352","p = 0.03"],"fontSize":3.7,"lineHeight":5.4,"align":"left","baseline":"alphabetic","color":"#222"},"encoding":{"x":{"datum":1.62},"y":{"datum":2.96}}}]}
]},
{"width":1,"height":191,"data":{"values":[{}]},"mark":{"type":"text","text":""},"encoding":{}},
{"spacing":0,"bounds":"flush","hconcat":[
{"width":39,"height":91,"title":{"text":"e","anchor":"start","dx":17,"offset":15,"fontSize":14,"fontWeight":"bold","color":"#000","limit":0},"data":{"values":[{}]},"mark":{"type":"text","text":""},"encoding":{}},
{"width":114,"height":91,"view":{"stroke":"#333","strokeWidth":0.8},"title":{"text":"HERV108Kenv.vs.E−Cadherin","offset":13},
 "layer":[
  {"data":{"name":"de"},"mark":{"type":"circle","size":5,"color":"#006400","opacity":1},"encoding":{"x":{"field":"h108","type":"quantitative","scale":{"domain":[1.80,5.53],"nice":false,"zero":false},"axis":{"values":[2,2.5,3,3.5,4,4.5,5,5.5],"tickCount":20,"format":".1f","title":"HERV108Kenv","titleY":26,"titleBaseline":"middle","labelBaseline":"middle","labelPadding":9,"labelOverlap":false,"labelFlush":false}},"y":{"field":"ecad","type":"quantitative","scale":{"domain":[-3.83,3.40],"nice":false,"zero":false},"axis":{"values":[-3,-2,-1,0,1,2,3],"tickCount":20,"format":"d","title":"E−Cadherin","titleX":-26,"titleBaseline":"middle","labelAngle":270,"labelAlign":"center","labelBaseline":"middle","labelPadding":6,"labelOverlap":false,"labelFlush":false}}}},
  {"data":{"values":[{}]},"mark":{"type":"rect","fill":"#fff","stroke":"#333","strokeWidth":0.6},"encoding":{"x":{"datum":1.80},"x2":{"datum":2.85},"y":{"datum":2.05},"y2":{"datum":3.40}}},
  {"data":{"values":[{}]},"mark":{"type":"text","text":["ρ = 0.321","p = 0.0498"],"fontSize":3.7,"lineHeight":5,"align":"left","baseline":"alphabetic","color":"#222"},"encoding":{"x":{"datum":1.90},"y":{"datum":2.86}}}]},
{"width":47,"height":91,"data":{"values":[{}]},"mark":{"type":"text","text":""},"encoding":{}},
{"width":113,"height":91,"view":{"stroke":"#333","strokeWidth":0.8},"title":{"text":"HERV109Kenv.vs.E−Cadherin","offset":13},
 "layer":[
  {"data":{"name":"de"},"mark":{"type":"circle","size":5,"color":"#006400","opacity":1},"encoding":{"x":{"field":"h108","type":"quantitative","scale":{"domain":[1.80,5.53],"nice":false,"zero":false},"axis":{"values":[2,2.5,3,3.5,4,4.5,5,5.5],"tickCount":20,"format":".1f","title":"HERV109Kenv","titleY":26,"titleBaseline":"middle","labelBaseline":"middle","labelPadding":9,"labelOverlap":false,"labelFlush":false}},"y":{"field":"ecad","type":"quantitative","scale":{"domain":[-3.83,3.40],"nice":false,"zero":false},"axis":{"values":[-3,-2,-1,0,1,2,3],"tickCount":20,"format":"d","title":"E−Cadherin","titleX":-27,"titleBaseline":"middle","labelAngle":270,"labelAlign":"center","labelBaseline":"middle","labelPadding":7,"labelOverlap":false,"labelFlush":false}}}},
  {"data":{"values":[{}]},"mark":{"type":"rect","fill":"#fff","stroke":"#333","strokeWidth":0.6},"encoding":{"x":{"datum":1.80},"x2":{"datum":2.86},"y":{"datum":2.05},"y2":{"datum":3.40}}},
  {"data":{"values":[{}]},"mark":{"type":"text","text":["ρ = 0.328","p = 0.0445"],"fontSize":3.7,"lineHeight":5,"align":"left","baseline":"alphabetic","color":"#222"},"encoding":{"x":{"datum":1.90},"y":{"datum":2.86}}}]}
]},
{"width":1,"height":2,"data":{"values":[{}]},"mark":{"type":"text","text":""},"encoding":{}},
{"spacing":0,"bounds":"flush","hconcat":[
{"width":404,"height":96,"title":{"text":"f","anchor":"start","dx":383,"offset":18,"fontSize":14,"fontWeight":"bold","color":"#000","limit":0},"data":{"values":[{}]},"mark":{"type":"text","text":""},"encoding":{}},
{"width":121,"height":96,"view":{"stroke":"#333","strokeWidth":0.8},"title":{"text":"HERV108Kenv.vs.CDK4","offset":13},
 "layer":[
  {"data":{"name":"f108"},"mark":{"type":"circle","size":5,"color":"#006400","opacity":1},"encoding":{"x":{"field":"x","type":"quantitative","scale":{"domain":[0.61,43.5],"nice":false,"zero":false},"axis":{"values":[10,20,30,40],"tickCount":20,"format":"d","title":"HERV108Kenv","titleY":28,"titleBaseline":"middle","labelBaseline":"middle","labelPadding":9,"labelOverlap":false,"labelFlush":false}},"y":{"field":"y","type":"quantitative","scale":{"domain":[4.75,124.85],"nice":false,"zero":false},"axis":{"values":[20,40,60,80,100],"tickCount":20,"format":"d","title":"CDK4","titleX":-26,"titleBaseline":"middle","labelAngle":270,"labelAlign":"center","labelBaseline":"middle","labelPadding":3,"labelOverlap":false,"labelFlush":false}}}},
  {"data":{"values":[{}]},"mark":{"type":"rect","fill":"#fff","stroke":"#333","strokeWidth":0.6},"encoding":{"x":{"datum":30.7},"x2":{"datum":43.5},"y":{"datum":103.8},"y2":{"datum":124.85}}},
  {"data":{"values":[{}]},"mark":{"type":"text","text":["ρ = −0.379","p = 0.00241"],"fontSize":3.6,"lineHeight":4.3,"align":"left","baseline":"alphabetic","color":"#222"},"encoding":{"x":{"datum":33.75},"y":{"datum":116.25}}}]},
{"width":50,"height":96,"data":{"values":[{}]},"mark":{"type":"text","text":""},"encoding":{}},
{"width":120,"height":96,"view":{"stroke":"#333","strokeWidth":0.8},"title":{"text":"HERV109Kenv.vs.CDK4","offset":13},
 "layer":[
  {"data":{"name":"f108"},"mark":{"type":"circle","size":5,"color":"#006400","opacity":1},"encoding":{"x":{"field":"x","type":"quantitative","scale":{"domain":[0.61,43.5],"nice":false,"zero":false},"axis":{"values":[10,20,30,40],"tickCount":20,"format":"d","title":"HERV109Kenv","titleY":28,"titleBaseline":"middle","labelBaseline":"middle","labelPadding":9,"labelOverlap":false,"labelFlush":false}},"y":{"field":"y","type":"quantitative","scale":{"domain":[4.75,124.85],"nice":false,"zero":false},"axis":{"values":[20,40,60,80,100],"tickCount":20,"format":"d","title":"CDK4","titleX":-29,"titleBaseline":"middle","labelAngle":270,"labelAlign":"center","labelBaseline":"middle","labelPadding":3,"labelOverlap":false,"labelFlush":false}}}},
  {"data":{"values":[{}]},"mark":{"type":"rect","fill":"#fff","stroke":"#333","strokeWidth":0.6},"encoding":{"x":{"datum":30.6},"x2":{"datum":43.5},"y":{"datum":103.8},"y2":{"datum":124.85}}},
  {"data":{"values":[{}]},"mark":{"type":"text","text":["ρ = −0.377","p = 0.0025"],"fontSize":3.6,"lineHeight":4.3,"align":"left","baseline":"alphabetic","color":"#222"},"encoding":{"x":{"datum":33.7},"y":{"datum":116.25}}}]}
]},
{"width":1,"height":158,"data":{"values":[{}]},"mark":{"type":"text","text":""},"encoding":{}},
{"spacing":0,"bounds":"flush","hconcat":[
{"width":39,"height":92,"data":{"values":[{}]},"mark":{"type":"text","text":""},"encoding":{}},
{"width":115,"height":92,"view":{"stroke":"#333","strokeWidth":0.8},"title":{"text":"HERV113Kenv.vs.E−Cadherin","offset":11.5},
 "layer":[
  {"data":{"name":"de"},"mark":{"type":"circle","size":5,"color":"#006400","opacity":1},"encoding":{"x":{"field":"h113","type":"quantitative","scale":{"domain":[1.05,5.42],"nice":false,"zero":false},"axis":{"values":[2,3,4,5],"tickCount":20,"format":"d","title":"HERV113Kenv","titleY":26,"titleBaseline":"middle","labelBaseline":"middle","labelPadding":9,"labelOverlap":false,"labelFlush":false}},"y":{"field":"ecad","type":"quantitative","scale":{"domain":[-3.83,3.40],"nice":false,"zero":false},"axis":{"values":[-3,-2,-1,0,1,2,3],"tickCount":20,"format":"d","title":"E−Cadherin","titleX":-26,"titleBaseline":"middle","labelAngle":270,"labelAlign":"center","labelBaseline":"middle","labelPadding":6,"labelOverlap":false,"labelFlush":false}}}},
  {"data":{"values":[{}]},"mark":{"type":"rect","fill":"#fff","stroke":"#333","strokeWidth":0.6},"encoding":{"x":{"datum":1.05},"x2":{"datum":2.27},"y":{"datum":2.05},"y2":{"datum":3.40}}},
  {"data":{"values":[{}]},"mark":{"type":"text","text":["ρ = 0.333","p = 0.0413"],"fontSize":3.7,"lineHeight":5,"align":"left","baseline":"alphabetic","color":"#222"},"encoding":{"x":{"datum":1.16},"y":{"datum":2.86}}}]},
{"width":46,"height":92,"data":{"values":[{}]},"mark":{"type":"text","text":""},"encoding":{}},
{"width":113,"height":92,"view":{"stroke":"#333","strokeWidth":0.8},"title":{"text":"HERV115Kenv.vs.E−Cadherin","offset":11.5},
 "layer":[
  {"data":{"name":"de"},"mark":{"type":"circle","size":5,"color":"#006400","opacity":1},"encoding":{"x":{"field":"h115","type":"quantitative","scale":{"domain":[1.52,5.55],"nice":false,"zero":false},"axis":{"values":[2,3,4,5],"tickCount":20,"format":"d","title":"HERV115Kenv","titleY":26,"titleBaseline":"middle","labelBaseline":"middle","labelPadding":9,"labelOverlap":false,"labelFlush":false}},"y":{"field":"ecad","type":"quantitative","scale":{"domain":[-3.83,3.40],"nice":false,"zero":false},"axis":{"values":[-3,-2,-1,0,1,2,3],"tickCount":20,"format":"d","title":"E−Cadherin","titleX":-27,"titleBaseline":"middle","labelAngle":270,"labelAlign":"center","labelBaseline":"middle","labelPadding":7,"labelOverlap":false,"labelFlush":false}}}},
  {"data":{"values":[{}]},"mark":{"type":"rect","fill":"#fff","stroke":"#333","strokeWidth":0.6},"encoding":{"x":{"datum":1.52},"x2":{"datum":2.66},"y":{"datum":2.05},"y2":{"datum":3.40}}},
  {"data":{"values":[{}]},"mark":{"type":"text","text":["ρ = 0.331","p = 0.0427"],"fontSize":3.7,"lineHeight":5,"align":"left","baseline":"alphabetic","color":"#222"},"encoding":{"x":{"datum":1.63},"y":{"datum":2.86}}}]}
]},
{"width":1,"height":13,"data":{"values":[{}]},"mark":{"type":"text","text":""},"encoding":{}},
{"spacing":0,"bounds":"flush","hconcat":[
{"width":405,"height":96,"data":{"values":[{}]},"mark":{"type":"text","text":""},"encoding":{}},
{"width":120,"height":96,"view":{"stroke":"#333","strokeWidth":0.8},"title":{"text":"HERV113Kenv.vs.CDK4","offset":14},
 "layer":[
  {"data":{"name":"f113"},"mark":{"type":"circle","size":5,"color":"#006400","opacity":1},"encoding":{"x":{"field":"x","type":"quantitative","scale":{"domain":[-0.39,39.79],"nice":false,"zero":false},"axis":{"values":[0,10,20,30],"tickCount":20,"format":"d","title":"HERV113Kenv","titleY":28,"titleBaseline":"middle","labelBaseline":"middle","labelPadding":9,"labelOverlap":false,"labelFlush":false}},"y":{"field":"y","type":"quantitative","scale":{"domain":[5.53,126.27],"nice":false,"zero":false},"axis":{"values":[20,40,60,80,100],"tickCount":20,"format":"d","title":"CDK4","titleX":-26,"titleBaseline":"middle","labelAngle":270,"labelAlign":"center","labelBaseline":"middle","labelPadding":3,"labelOverlap":false,"labelFlush":false}}}},
  {"data":{"values":[{}]},"mark":{"type":"rect","fill":"#fff","stroke":"#333","strokeWidth":0.6},"encoding":{"x":{"datum":27.8},"x2":{"datum":39.79},"y":{"datum":105.5},"y2":{"datum":126.27}}},
  {"data":{"values":[{}]},"mark":{"type":"text","text":["ρ = −0.378","p = 0.00244"],"fontSize":3.6,"lineHeight":4.3,"align":"left","baseline":"alphabetic","color":"#222"},"encoding":{"x":{"datum":30.7},"y":{"datum":118.8}}}]},
{"width":50,"height":96,"data":{"values":[{}]},"mark":{"type":"text","text":""},"encoding":{}},
{"width":120,"height":96,"view":{"stroke":"#333","strokeWidth":0.8},"title":{"text":"HERV115Kenv.vs.CDK4","offset":14},
 "layer":[
  {"data":{"name":"f108"},"mark":{"type":"circle","size":5,"color":"#006400","opacity":1},"encoding":{"x":{"field":"x","type":"quantitative","scale":{"domain":[0.61,43.5],"nice":false,"zero":false},"axis":{"values":[10,20,30,40],"tickCount":20,"format":"d","title":"HERV115Kenv","titleY":28,"titleBaseline":"middle","labelBaseline":"middle","labelPadding":9,"labelOverlap":false,"labelFlush":false}},"y":{"field":"y","type":"quantitative","scale":{"domain":[4.75,124.85],"nice":false,"zero":false},"axis":{"values":[20,40,60,80,100],"tickCount":20,"format":"d","title":"CDK4","titleX":-29,"titleBaseline":"middle","labelAngle":270,"labelAlign":"center","labelBaseline":"middle","labelPadding":3,"labelOverlap":false,"labelFlush":false}}}},
  {"data":{"values":[{}]},"mark":{"type":"rect","fill":"#fff","stroke":"#333","strokeWidth":0.6},"encoding":{"x":{"datum":30.6},"x2":{"datum":43.5},"y":{"datum":103.8},"y2":{"datum":124.85}}},
  {"data":{"values":[{}]},"mark":{"type":"text","text":["ρ = −0.385","p = 0.00202"],"fontSize":3.6,"lineHeight":4.3,"align":"left","baseline":"alphabetic","color":"#222"},"encoding":{"x":{"datum":33.7},"y":{"datum":116.25}}}]}
]},
{"width":1,"height":154,"data":{"values":[{}]},"mark":{"type":"text","text":""},"encoding":{}},
{"spacing":0,"bounds":"flush","hconcat":[
{"width":225,"height":85,"title":{"text":"g","anchor":"start","dx":205,"offset":13,"fontSize":14,"fontWeight":"bold","color":"#000","limit":0},"data":{"values":[{}]},"mark":{"type":"text","text":""},"encoding":{}},
{"width":104,"height":85,"view":{"stroke":"#333","strokeWidth":0.8},"title":{"text":"HERV108Kenv.vs.TK1","offset":11.5},
 "layer":[
  {"data":{"name":"g108"},"mark":{"type":"circle","size":5,"color":"#006400","opacity":1},"encoding":{"x":{"field":"x","type":"quantitative","scale":{"domain":[0.93,43.27],"nice":false,"zero":false},"axis":{"values":[10,20,30,40],"tickCount":20,"format":"d","title":"HERV108Kenv","titleY":24,"titleBaseline":"middle","labelBaseline":"middle","labelPadding":7,"labelOverlap":false,"labelFlush":false}},"y":{"field":"y","type":"quantitative","scale":{"domain":[-3.1,225.5],"nice":false,"zero":false},"axis":{"values":[0,50,100,150,200],"tickCount":20,"format":"d","title":"TK1","titleX":-23,"titleBaseline":"middle","labelAngle":270,"labelAlign":"center","labelBaseline":"middle","labelPadding":10,"labelOverlap":false,"labelFlush":false}}}},
  {"data":{"values":[{}]},"mark":{"type":"rect","fill":"#fff","stroke":"#333","strokeWidth":0.6},"encoding":{"x":{"datum":31.27},"x2":{"datum":43.27},"y":{"datum":185.8},"y2":{"datum":225.5}}},
  {"data":{"values":[{}]},"mark":{"type":"text","text":["ρ = −0.329","p = 0.00860"],"fontSize":3.6,"lineHeight":4.5,"align":"left","baseline":"alphabetic","color":"#222"},"encoding":{"x":{"datum":34.2},"y":{"datum":210}}}]},
{"width":36,"height":85,"data":{"values":[{}]},"mark":{"type":"text","text":""},"encoding":{}},
{"width":115,"height":85,"view":{"stroke":"#333","strokeWidth":0.8},"title":{"text":"HERV109Kenv.vs.TK1","offset":11.5},
 "layer":[
  {"data":{"name":"g108"},"mark":{"type":"circle","size":5,"color":"#006400","opacity":1},"encoding":{"x":{"field":"x","type":"quantitative","scale":{"domain":[0.93,43.27],"nice":false,"zero":false},"axis":{"values":[10,20,30,40],"tickCount":20,"format":"d","title":"HERV109Kenv","titleY":24,"titleBaseline":"middle","labelBaseline":"middle","labelPadding":7,"labelOverlap":false,"labelFlush":false}},"y":{"field":"y","type":"quantitative","scale":{"domain":[-3.1,225.5],"nice":false,"zero":false},"axis":{"values":[0,50,100,150,200],"tickCount":20,"format":"d","title":"TK1","titleX":-15,"titleBaseline":"middle","labelAngle":270,"labelAlign":"center","labelBaseline":"middle","labelPadding":2,"labelOverlap":false,"labelFlush":false}}}},
  {"data":{"values":[{}]},"mark":{"type":"rect","fill":"#fff","stroke":"#333","strokeWidth":0.6},"encoding":{"x":{"datum":32.3},"x2":{"datum":43.27},"y":{"datum":185.8},"y2":{"datum":225.5}}},
  {"data":{"values":[{}]},"mark":{"type":"text","text":["ρ = −0.33","p = 0.0089"],"fontSize":3.6,"lineHeight":4.5,"align":"left","baseline":"alphabetic","color":"#222"},"encoding":{"x":{"datum":35.0},"y":{"datum":210}}}]}
]},
{"width":1,"height":150,"data":{"values":[{}]},"mark":{"type":"text","text":""},"encoding":{}},
{"spacing":0,"bounds":"flush","hconcat":[
{"width":225,"height":85,"data":{"values":[{}]},"mark":{"type":"text","text":""},"encoding":{}},
{"width":104,"height":85,"view":{"stroke":"#333","strokeWidth":0.8},"title":{"text":"HERV113Kenv.vs.TK1","offset":11.5},
 "layer":[
  {"data":{"name":"g113"},"mark":{"type":"circle","size":5,"color":"#006400","opacity":1},"encoding":{"x":{"field":"x","type":"quantitative","scale":{"domain":[-0.17,39.47],"nice":false,"zero":false},"axis":{"values":[0,10,20,30],"tickCount":20,"format":"d","title":"HERV113Kenv","titleY":24,"titleBaseline":"middle","labelBaseline":"middle","labelPadding":7,"labelOverlap":false,"labelFlush":false}},"y":{"field":"y","type":"quantitative","scale":{"domain":[-2.44,225.44],"nice":false,"zero":false},"axis":{"values":[0,50,100,150,200],"tickCount":20,"format":"d","title":"TK1","titleX":-23,"titleBaseline":"middle","labelAngle":270,"labelAlign":"center","labelBaseline":"middle","labelPadding":10,"labelOverlap":false,"labelFlush":false}}}},
  {"data":{"values":[{}]},"mark":{"type":"rect","fill":"#fff","stroke":"#333","strokeWidth":0.6},"encoding":{"x":{"datum":28.9},"x2":{"datum":39.47},"y":{"datum":185.8},"y2":{"datum":225.44}}},
  {"data":{"values":[{}]},"mark":{"type":"text","text":["ρ = −0.341","p = 0.0067"],"fontSize":3.6,"lineHeight":4.5,"align":"left","baseline":"alphabetic","color":"#222"},"encoding":{"x":{"datum":31.5},"y":{"datum":209}}}]},
{"width":36,"height":85,"data":{"values":[{}]},"mark":{"type":"text","text":""},"encoding":{}},
{"width":115,"height":85,"view":{"stroke":"#333","strokeWidth":0.8},"title":{"text":"HERV115Kenv.vs.TK1","offset":11.5},
 "layer":[
  {"data":{"name":"g108"},"mark":{"type":"circle","size":5,"color":"#006400","opacity":1},"encoding":{"x":{"field":"x","type":"quantitative","scale":{"domain":[0.93,43.27],"nice":false,"zero":false},"axis":{"values":[10,20,30,40],"tickCount":20,"format":"d","title":"HERV115Kenv","titleY":24,"titleBaseline":"middle","labelBaseline":"middle","labelPadding":7,"labelOverlap":false,"labelFlush":false}},"y":{"field":"y","type":"quantitative","scale":{"domain":[-3.1,225.5],"nice":false,"zero":false},"axis":{"values":[0,50,100,150,200],"tickCount":20,"format":"d","title":"TK1","titleX":-15,"titleBaseline":"middle","labelAngle":270,"labelAlign":"center","labelBaseline":"middle","labelPadding":2,"labelOverlap":false,"labelFlush":false}}}},
  {"data":{"values":[{}]},"mark":{"type":"rect","fill":"#fff","stroke":"#333","strokeWidth":0.6},"encoding":{"x":{"datum":32.3},"x2":{"datum":43.27},"y":{"datum":185.8},"y2":{"datum":225.5}}},
  {"data":{"values":[{}]},"mark":{"type":"text","text":["ρ = −0.336","p = 0.00768"],"fontSize":3.6,"lineHeight":4.5,"align":"left","baseline":"alphabetic","color":"#222"},"encoding":{"x":{"datum":35.0},"y":{"datum":210}}}]}
]}
],
"config":{
 "view":{"stroke":null},
 "font":"Liberation Sans",
 "axis":{"domain":false,"grid":false,"tickSize":3,"tickWidth":0.8,"tickColor":"#333","labelFontSize":6.8,"labelColor":"#222","titleFontSize":6.8,"titleFontWeight":"normal","titleColor":"#222","labelFlush":false,"labelOverlap":false},
 "title":{"fontSize":8,"fontWeight":"bold","color":"#111","baseline":"alphabetic","offset":13}
}
}
